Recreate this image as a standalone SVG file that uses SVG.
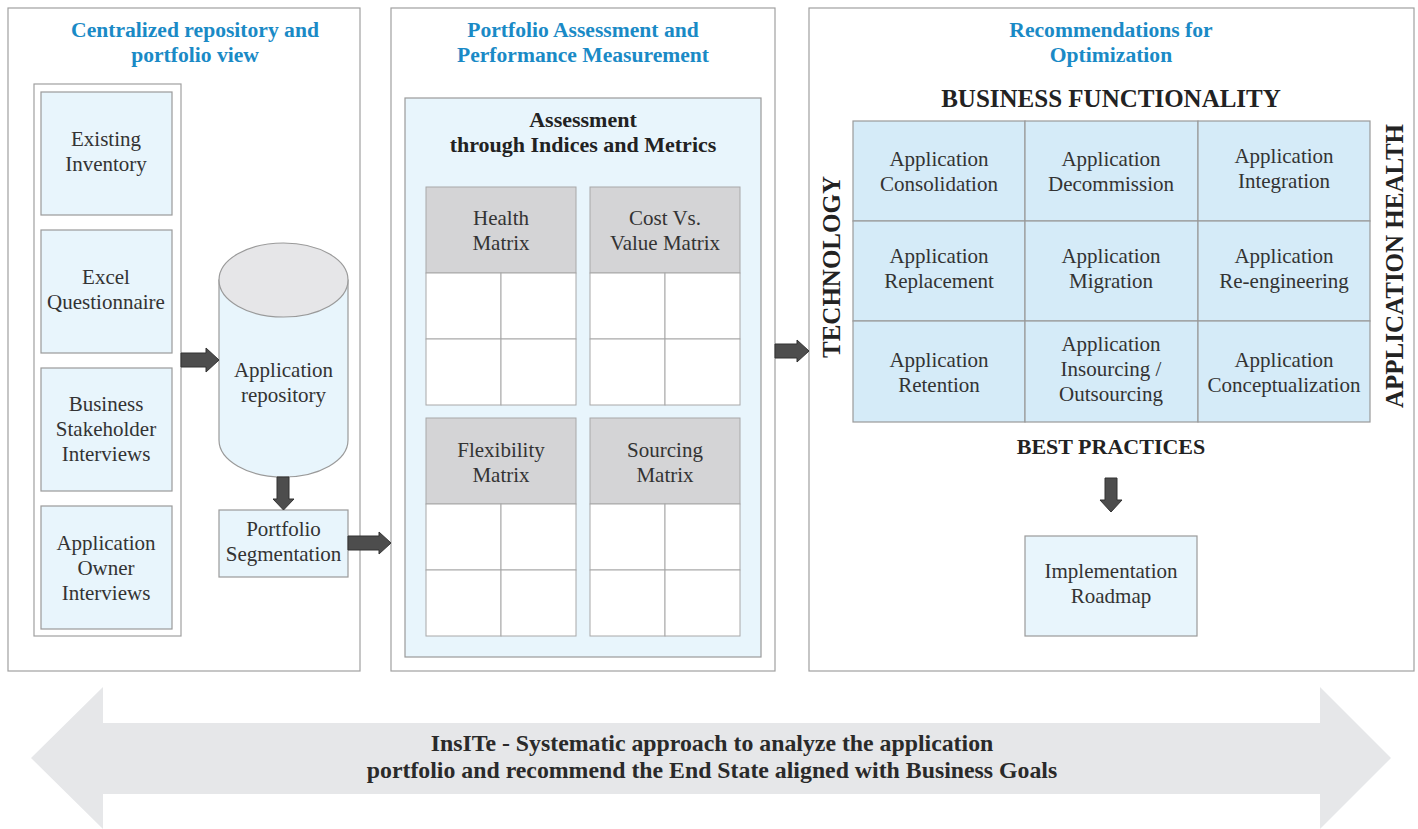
<svg xmlns="http://www.w3.org/2000/svg" width="1418" height="829" viewBox="0 0 1418 829" font-family="Liberation Serif, serif">
<defs>
<style>
.panel{fill:#fff;stroke:#a0a0a0;stroke-width:1.2}
.box{fill:#e8f5fc;stroke:#9a9a9a;stroke-width:1.2}
.cell{fill:#d5ebf8;stroke:#9a9a9a;stroke-width:1.2}
.hdr{fill:#d4d4d6;stroke:#a8a8a8;stroke-width:1}
.wcell{fill:#fff;stroke:#a8a8a8;stroke-width:1}
.title{font-family:'Liberation Serif',serif;font-weight:bold;font-size:21.6px;fill:#1a8ac6;text-anchor:middle}
.t{font-family:'Liberation Serif',serif;font-size:21px;fill:#333;text-anchor:middle}
.b{font-family:'Liberation Serif',serif;font-weight:bold;font-size:22px;fill:#222;text-anchor:middle}
.cap{font-family:'Liberation Serif',serif;font-weight:bold;font-size:25px;fill:#222;text-anchor:middle}
.ban{font-family:'Liberation Serif',serif;font-weight:bold;font-size:23.8px;fill:#2a2a2a;text-anchor:middle}
.arr{fill:#4d4d4d;stroke:#333;stroke-width:1}
</style>
</defs>

<g id="panel-repository">
<rect class="panel" x="8" y="8" width="352" height="663"/>
<text class="title" x="195" y="37">Centralized repository and</text>
<text class="title" x="195" y="62">portfolio view</text>
<rect class="panel" x="34" y="84" width="147" height="552"/>
</g>
<g id="node-existing-inventory">
<rect class="box" x="41" y="92" width="131" height="123"/>
<text class="t" x="106" y="146">Existing</text>
<text class="t" x="106" y="171">Inventory</text>
</g>
<g id="node-excel-questionnaire">
<rect class="box" x="41" y="230" width="131" height="123"/>
<text class="t" x="106" y="284">Excel</text>
<text class="t" x="106" y="309">Questionnaire</text>
</g>
<g id="node-business-stakeholder">
<rect class="box" x="41" y="368" width="131" height="123"/>
<text class="t" x="106" y="411">Business</text>
<text class="t" x="106" y="436">Stakeholder</text>
<text class="t" x="106" y="461">Interviews</text>
</g>
<g id="node-application-owner">
<rect class="box" x="41" y="506" width="131" height="123"/>
<text class="t" x="106" y="550">Application</text>
<text class="t" x="106" y="575">Owner</text>
<text class="t" x="106" y="600">Interviews</text>
</g>
<g id="node-application-repository">
<path d="M219 280 L219 440 A64.5 37 0 0 0 348 440 L348 280 Z" fill="#e8f5fc" stroke="#9a9a9a" stroke-width="1.2"/>
<ellipse cx="283.5" cy="280" rx="64.5" ry="37" fill="#e6e6e8" stroke="#9a9a9a" stroke-width="1.2"/>
<text class="t" x="283.5" y="377">Application</text>
<text class="t" x="283.5" y="402">repository</text>
</g>
<g id="node-portfolio-segmentation">
<rect class="box" x="219" y="510" width="129" height="67"/>
<text class="t" x="283.5" y="536">Portfolio</text>
<text class="t" x="283.5" y="561">Segmentation</text>
</g>

<g id="panel-assessment">
<rect class="panel" x="391" y="8" width="384" height="663"/>
<text class="title" x="583" y="37">Portfolio Assessment and</text>
<text class="title" x="583" y="62">Performance Measurement</text>
<rect class="box" x="405" y="98" width="356" height="559"/>
<text class="b" x="583" y="127">Assessment</text>
<text class="b" x="583" y="152">through Indices and Metrics</text>
</g>
<g id="node-health-matrix">
<rect class="hdr" x="426" y="187" width="150" height="86"/>
<rect class="wcell" x="426" y="273" width="75" height="66"/>
<rect class="wcell" x="501" y="273" width="75" height="66"/>
<rect class="wcell" x="426" y="339" width="75" height="66"/>
<rect class="wcell" x="501" y="339" width="75" height="66"/>
<text class="t" x="501" y="225">Health</text>
<text class="t" x="501" y="250">Matrix</text>
</g>
<g id="node-cost-value-matrix">
<rect class="hdr" x="590" y="187" width="150" height="86"/>
<rect class="wcell" x="590" y="273" width="75" height="66"/>
<rect class="wcell" x="665" y="273" width="75" height="66"/>
<rect class="wcell" x="590" y="339" width="75" height="66"/>
<rect class="wcell" x="665" y="339" width="75" height="66"/>
<text class="t" x="665" y="225">Cost Vs.</text>
<text class="t" x="665" y="250">Value Matrix</text>
</g>
<g id="node-flexibility-matrix">
<rect class="hdr" x="426" y="418" width="150" height="86"/>
<rect class="wcell" x="426" y="504" width="75" height="66"/>
<rect class="wcell" x="501" y="504" width="75" height="66"/>
<rect class="wcell" x="426" y="570" width="75" height="66"/>
<rect class="wcell" x="501" y="570" width="75" height="66"/>
<text class="t" x="501" y="457">Flexibility</text>
<text class="t" x="501" y="482">Matrix</text>
</g>
<g id="node-sourcing-matrix">
<rect class="hdr" x="590" y="418" width="150" height="86"/>
<rect class="wcell" x="590" y="504" width="75" height="66"/>
<rect class="wcell" x="665" y="504" width="75" height="66"/>
<rect class="wcell" x="590" y="570" width="75" height="66"/>
<rect class="wcell" x="665" y="570" width="75" height="66"/>
<text class="t" x="665" y="457">Sourcing</text>
<text class="t" x="665" y="482">Matrix</text>
</g>

<g id="panel-recommendations">
<rect class="panel" x="809" y="8" width="605" height="663"/>
<text class="title" x="1111" y="37">Recommendations for</text>
<text class="title" x="1111" y="62">Optimization</text>
<text class="cap" x="1111" y="107">BUSINESS FUNCTIONALITY</text>
<text class="cap" x="0" y="0" transform="translate(840 267) rotate(-90)">TECHNOLOGY</text>
<text class="cap" x="0" y="0" transform="translate(1403 266) rotate(-90)">APPLICATION HEALTH</text>
<text class="b" x="1111" y="454">BEST PRACTICES</text>
</g>
<g id="node-consolidation">
<rect class="cell" x="853" y="121" width="172" height="100"/>
<text class="t" x="939" y="166">Application</text>
<text class="t" x="939" y="191">Consolidation</text>
</g>
<g id="node-decommission">
<rect class="cell" x="1025" y="121" width="173" height="100"/>
<text class="t" x="1111" y="166">Application</text>
<text class="t" x="1111" y="191">Decommission</text>
</g>
<g id="node-integration">
<rect class="cell" x="1198" y="121" width="172" height="100"/>
<text class="t" x="1284" y="163">Application</text>
<text class="t" x="1284" y="188">Integration</text>
</g>
<g id="node-replacement">
<rect class="cell" x="853" y="221" width="172" height="100"/>
<text class="t" x="939" y="263">Application</text>
<text class="t" x="939" y="288">Replacement</text>
</g>
<g id="node-migration">
<rect class="cell" x="1025" y="221" width="173" height="100"/>
<text class="t" x="1111" y="263">Application</text>
<text class="t" x="1111" y="288">Migration</text>
</g>
<g id="node-reengineering">
<rect class="cell" x="1198" y="221" width="172" height="100"/>
<text class="t" x="1284" y="263">Application</text>
<text class="t" x="1284" y="288">Re-engineering</text>
</g>
<g id="node-retention">
<rect class="cell" x="853" y="321" width="172" height="101"/>
<text class="t" x="939" y="367">Application</text>
<text class="t" x="939" y="392">Retention</text>
</g>
<g id="node-insourcing">
<rect class="cell" x="1025" y="321" width="173" height="101"/>
<text class="t" x="1111" y="351">Application</text>
<text class="t" x="1111" y="376">Insourcing /</text>
<text class="t" x="1111" y="401">Outsourcing</text>
</g>
<g id="node-conceptualization">
<rect class="cell" x="1198" y="321" width="172" height="101"/>
<text class="t" x="1284" y="367">Application</text>
<text class="t" x="1284" y="392">Conceptualization</text>
</g>
<g id="node-implementation-roadmap">
<rect class="box" x="1025" y="536" width="172" height="100"/>
<text class="t" x="1111" y="578">Implementation</text>
<text class="t" x="1111" y="603">Roadmap</text>
</g>

<g id="connectors">
<path class="arr" d="M181 353 H206 V348 L219 360 L206 372 V367 H181 Z"/>
<path class="arr" d="M277 477 H289 V499 H294 L283.5 510 L273 499 H277 Z"/>
<path class="arr" d="M348 536 H379 V532 L391 543 L379 554 V550 H348 Z"/>
<path class="arr" d="M775 344 H797 V340 L809 351 L797 362 V358 H775 Z"/>
<path class="arr" d="M1105 478 H1117 V500 H1122 L1111 512 L1100 500 H1105 Z"/>
</g>

<g id="node-insite-banner">
<path d="M31 758 L103 687 L103 723 L1320 723 L1320 687 L1391 758 L1320 829 L1320 794 L103 794 L103 829 Z" fill="#e6e7e9"/>
<text class="ban" x="712" y="751">InsITe - Systematic approach to analyze the application</text>
<text class="ban" x="712" y="778">portfolio and recommend the End State aligned with Business Goals</text>
</g>
</svg>
